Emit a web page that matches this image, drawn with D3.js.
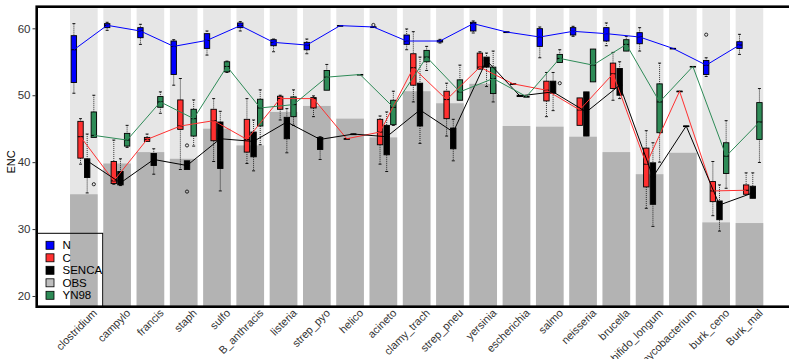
<!DOCTYPE html>
<html>
<head>
<meta charset="utf-8">
<script src="https://cdn.jsdelivr.net/npm/d3@7"></script>
<style>
  body { margin: 0; background: #fff; }
  text { font-family: "Liberation Sans", Arial, sans-serif; }
</style>
</head>
<body>
<svg id="chart" width="789" height="359"></svg>
<script>
// categories along x
const categories = ['clostridium', 'campylo', 'francis', 'staph', 'sulfo', 'B_anthracis', 'listeria',
  'strep_pyo', 'helico', 'acineto', 'clamy_trach', 'strep_pneu', 'yersinia', 'escherichia', 'salmo',
  'neisseria', 'brucella', 'bifido_longum', 'mycobacterium', 'burk_ceno', 'Burk_mal'];

// observed ENC (bars)
const obs = [35.2, 39.8, 41.5, 40.5, 45.0, 42.5, 47.5, 48.4, 46.5, 43.7, 50.6, 48.8, 51.7, 45.4, 45.3,
  43.8, 41.5, 38.2, 41.4, 31.0, 30.9];

// box stats per category: [low whisker, q1, median, q3, high whisker]
const N = [[50.3, 51.9, 56.8, 58.9, 60.7], [59.7, 60.1, 60.45, 60.7, 60.9], [57.6, 58.6, 59.6, 60.1, 60.6],
  [51.5, 53.1, 57.3, 58.1, 58.3], [56.0, 57.0, 58.2, 59.2, 59.6], [59.6, 60.1, 60.4, 60.8, 61.0],
  [56.5, 57.4, 57.9, 58.3, 58.4], [56.2, 56.8, 57.5, 57.9, 58.4], [60.4, 60.4, 60.4, 60.4, 60.4],
  [60.2, 60.2, 60.2, 60.2, 60.2], [56.8, 57.6, 58.1, 59.0, 59.9], [57.8, 57.95, 58.1, 58.2, 58.35],
  [59.3, 59.6, 60.7, 60.9, 61.1], [59.45, 59.45, 59.45, 59.45, 59.45], [55.6, 57.3, 58.7, 59.95, 60.2],
  [58.8, 59.0, 59.55, 60.1, 60.3], [57.4, 58.1, 59.2, 60.1, 60.8], [56.6, 57.7, 58.7, 59.35, 60.1],
  [57.0, 57.0, 57.0, 57.0, 57.0], [52.8, 53.1, 54.5, 55.2, 55.6], [56.1, 57.0, 57.5, 58.0, 59.1]];

const C = [[39.7, 40.6, 43.8, 46.1, 46.5], [36.7, 36.8, 37.2, 40.1, 43.3], [43.1, 43.1, 43.4, 43.7, 44.2],
  [38.9, 44.9, 45.4, 49.3, 52.5], [40.1, 43.2, 46.2, 47.9, 49.5], [39.8, 41.5, 43.4, 46.4, 49.5],
  [46.3, 47.9, 49.5, 49.85, 50.0], [46.8, 48.1, 49.5, 49.65, 49.9], [43.5, 43.5, 43.5, 43.5, 43.5],
  [39.7, 42.6, 44.5, 46.4, 46.9], [49.0, 51.5, 54.1, 56.2, 59.5], [43.9, 46.5, 49.35, 50.6, 51.8],
  [53.9, 53.9, 54.2, 56.3, 56.5], [51.7, 51.7, 51.7, 51.7, 51.7], [46.8, 49.15, 50.75, 52.1, 53.4],
  [45.5, 45.5, 47.8, 49.6, 49.6], [49.25, 51.0, 53.2, 54.8, 56.4], [33.1, 36.3, 39.7, 42.1, 44.7],
  [50.6, 50.6, 50.6, 50.6, 50.6], [32.0, 34.1, 35.7, 37.1, 40.1], [35.2, 35.2, 35.8, 36.6, 38.4]];

const SENCA = [[35.4, 37.7, 40.2, 40.5, 44.2], [36.5, 36.6, 36.9, 38.6, 40.5], [38.2, 39.5, 40.4, 41.3, 42.0],
  [38.9, 38.9, 39.5, 40.2, 40.2], [35.7, 39.05, 43.5, 46.0, 47.6], [38.7, 40.8, 43.1, 44.5, 46.3],
  [41.4, 43.5, 46.0, 46.7, 48.0], [40.4, 41.9, 43.4, 43.7, 43.8], [44.2, 44.2, 44.2, 44.2, 44.2],
  [38.6, 41.1, 43.8, 45.5, 47.5], [42.8, 45.4, 47.8, 51.8, 55.7], [40.2, 42.0, 44.5, 45.1, 46.4],
  [51.3, 54.2, 55.2, 55.7, 56.3], [49.8, 49.8, 49.9, 50.0, 50.0], [47.7, 50.3, 50.5, 52.1, 53.4],
  [43.9, 43.9, 47.5, 50.5, 50.5], [49.5, 50.0, 51.5, 54.0, 55.0], [30.4, 33.7, 37.8, 39.9, 42.9],
  [45.4, 45.4, 45.4, 45.4, 45.4], [29.7, 31.4, 33.6, 34.2, 36.6], [34.6, 34.6, 35.4, 36.4, 38.4]];

const YN98 = [[43.7, 43.7, 44.0, 47.5, 50.0], [42.2, 42.4, 43.3, 44.3, 45.5], [47.3, 48.2, 49.0, 49.8, 50.5],
  [42.4, 43.9, 46.5, 47.9, 49.3], [53.4, 53.5, 54.3, 55.0, 55.1], [42.6, 45.4, 48.1, 49.4, 50.8],
  [45.5, 46.8, 48.6, 49.75, 50.8], [50.75, 50.75, 52.7, 53.7, 54.6], [53.1, 53.1, 53.1, 53.1, 53.1],
  [45.5, 45.6, 48.2, 49.25, 50.6], [53.7, 55.0, 55.7, 56.7, 57.3], [49.25, 49.25, 50.5, 52.3, 54.5],
  [49.0, 50.25, 52.5, 54.2, 56.6], [49.8, 49.8, 49.8, 49.8, 49.8], [54.9, 54.9, 55.5, 56.1, 56.8],
  [52.0, 52.0, 54.5, 56.9, 56.9], [56.6, 56.6, 57.6, 58.3, 58.8], [40.0, 44.4, 49.0, 51.7, 54.8],
  [54.3, 54.3, 54.3, 54.3, 54.3], [36.1, 38.3, 40.9, 42.9, 46.2], [39.95, 43.4, 46.0, 48.9, 51.0]];

// outlier points: [category, series, value]
const outliers = [['clostridium', 'YN98', 36.7], ['staph', 'SENCA', 42.5], ['staph', 'SENCA', 35.6],
  ['acineto', 'N', 60.5], ['salmo', 'YN98', 51.8], ['burk_ceno', 'N', 59.05]];

const seriesNames = ['N', 'C', 'SENCA', 'YN98'];
const legendNames = ['N', 'C', 'SENCA', 'OBS', 'YN98'];
const yTicks = [20, 30, 40, 50, 60];

const stats = {N: N, C: C, SENCA: SENCA, YN98: YN98};
const colors = {N: '#0000ff', C: '#ff3030', SENCA: '#000000', OBS: '#bebebe', YN98: '#2e8b57'};

const svg = d3.select('#chart');
const plotLeft = 36.7, plotTop = 6.7, plotBottom = 306.7;
const step = 33.28;
const x0 = 83.85 - step / 2;

const x = d3.scaleBand().domain(categories)
  .range([x0, x0 + step * categories.length])
  .paddingInner(0.17).paddingOuter(0.085);
const sub = d3.scaleBand().domain(seriesNames).range([-13.3, 13.3]);
const y = d3.scaleLinear().domain([18.4, 63.23]).range([plotBottom, plotTop]);

const cx = c => x(c) + x.bandwidth() / 2;
const sx = (c, s) => cx(c) + sub(s) + sub.bandwidth() / 2;

// background bars and OBS bars
svg.append('g').selectAll('rect').data(categories).enter().append('rect')
  .attr('x', d => x(d)).attr('width', x.bandwidth())
  .attr('y', y(63.0)).attr('height', plotBottom - y(63.0))
  .attr('fill', '#e6e6e6');
svg.append('g').selectAll('rect').data(categories).enter().append('rect')
  .attr('x', d => x(d)).attr('width', x.bandwidth())
  .attr('y', (d, i) => y(obs[i])).attr('height', (d, i) => plotBottom - y(obs[i]))
  .attr('fill', '#b3b3b3');

// boxplots
const bw = 5.4;
seriesNames.forEach(s => {
  const g = svg.append('g');
  const rows = categories.map((c, i) => ({c: c, v: stats[s][i]}));
  const box = g.selectAll('g').data(rows).enter().append('g');
  // whiskers
  box.append('line')
    .attr('x1', d => sx(d.c, s)).attr('x2', d => sx(d.c, s))
    .attr('y1', d => y(d.v[4])).attr('y2', d => y(d.v[3]))
    .attr('stroke', '#000').attr('stroke-width', 0.8).attr('stroke-dasharray', '1,1');
  box.append('line')
    .attr('x1', d => sx(d.c, s)).attr('x2', d => sx(d.c, s))
    .attr('y1', d => y(d.v[1])).attr('y2', d => y(d.v[0]))
    .attr('stroke', '#000').attr('stroke-width', 0.8).attr('stroke-dasharray', '1,1');
  [0, 4].forEach(k => {
    box.filter(d => d.v[k] !== d.v[k === 0 ? 1 : 3]).append('line')
      .attr('x1', d => sx(d.c, s) - 1.5).attr('x2', d => sx(d.c, s) + 1.5)
      .attr('y1', d => y(d.v[k])).attr('y2', d => y(d.v[k]))
      .attr('stroke', '#000').attr('stroke-width', 0.9);
  });
  box.append('rect')
    .attr('x', d => sx(d.c, s) - bw / 2).attr('width', bw)
    .attr('y', d => y(d.v[3])).attr('height', d => Math.max(0.6, y(d.v[1]) - y(d.v[3])))
    .attr('fill', colors[s]).attr('stroke', '#000').attr('stroke-width', 0.9);
  box.append('line')
    .attr('x1', d => sx(d.c, s) - bw / 2).attr('x2', d => sx(d.c, s) + bw / 2)
    .attr('y1', d => y(d.v[2])).attr('y2', d => y(d.v[2]))
    .attr('stroke', '#000').attr('stroke-width', 1);
});

// outliers
svg.append('g').selectAll('circle').data(outliers).enter().append('circle')
  .attr('cx', d => sx(d[0], d[1])).attr('cy', d => y(d[2])).attr('r', 1.6)
  .attr('fill', 'none').attr('stroke', '#000').attr('stroke-width', 0.8);

// median lines
seriesNames.forEach(s => {
  const line = d3.line().x(c => sx(c, s)).y((c, i) => y(stats[s][i][2]));
  svg.append('path').datum(categories).attr('d', line)
    .attr('fill', 'none').attr('stroke', colors[s]).attr('stroke-width', 1);
});

// y axis
const yAxis = svg.append('g').attr('transform', `translate(${plotLeft - 1.2},0)`)
  .call(d3.axisLeft(y).tickValues(yTicks).tickSize(3).tickPadding(2));
yAxis.select('.domain').remove();
yAxis.selectAll('line').attr('stroke', '#333');
yAxis.selectAll('text').attr('fill', '#333').style('font-size', '11.5px');

// x axis labels, rotated 45 degrees
svg.append('g').selectAll('text').data(categories).enter().append('text')
  .attr('transform', d => 'translate(' + (cx(d) + 14) + ',' + (plotBottom + 7) + ') rotate(-45)')
  .attr('text-anchor', 'end')
  .attr('fill', '#333').style('font-size', '11px')
  .text(d => d);

svg.append('text').attr('transform', 'translate(15,162) rotate(-90)')
  .attr('text-anchor', 'middle').style('font-size', '11px').text('ENC');

// border
svg.append('rect').attr('x', plotLeft).attr('y', plotTop)
  .attr('width', 800).attr('height', plotBottom - plotTop)
  .attr('fill', 'none').attr('stroke', '#000').attr('stroke-width', 2.6);

// legend
const lg = svg.append('g');
lg.append('rect').attr('x', plotLeft).attr('y', 233.3).attr('width', 66).attr('height', plotBottom - 233.3)
  .attr('fill', 'none').attr('stroke', '#000').attr('stroke-width', 1);
const items = lg.selectAll('g.item').data(legendNames).enter().append('g')
  .attr('transform', (d, i) => `translate(46,${245.3 + i * 12.5})`);
items.append('rect').attr('x', 0).attr('y', -4).attr('width', 8).attr('height', 8)
  .attr('fill', d => colors[d]).attr('stroke', '#000').attr('stroke-width', 0.8);
items.append('text').attr('x', 16.5).attr('y', 0).attr('dy', '0.36em')
  .style('font-size', '11.5px').text(d => d);
</script>
</body>
</html>
